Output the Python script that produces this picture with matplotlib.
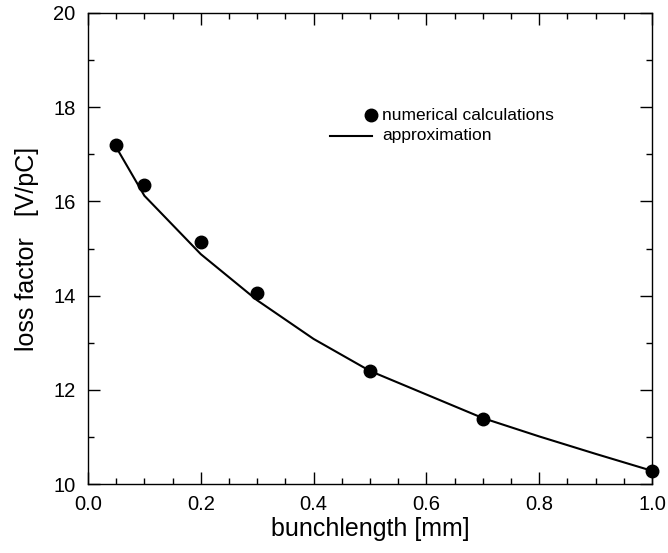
import numpy as np
import matplotlib.pyplot as plt
from matplotlib.ticker import MultipleLocator

plt.rcParams['font.family'] = ['Liberation Sans', 'DejaVu Sans']

# numerical results: bunch length [mm] vs loss factor [V/pC]
bunch_mm = [0.05, 0.1, 0.2, 0.3, 0.5, 0.7, 1.0]
loss_num = [17.2, 16.35, 15.13, 14.05, 12.40, 11.39, 10.28]

# approximation curve
approx_mm = [0.05, 0.1, 0.2, 0.3, 0.4, 0.5, 0.6, 0.7, 0.8, 0.9, 1.0]
approx_loss = [17.15, 16.12, 14.88, 13.9, 13.08, 12.40, 11.9, 11.40, 11.01, 10.64, 10.28]

fig = plt.figure(figsize=(6.68, 5.53), dpi=100)
ax = fig.add_axes([88/668, 69/553, 564/668, 471/553])

ax.plot(approx_mm, approx_loss, color='black', lw=1.5, zorder=2)
ax.plot(bunch_mm, loss_num, 'o', color='black', ms=9, zorder=3, clip_on=False)

ax.set_xlim(0, 1.0)
ax.set_ylim(10, 20)
ax.xaxis.set_major_locator(MultipleLocator(0.2))
ax.xaxis.set_minor_locator(MultipleLocator(0.05))
ax.yaxis.set_major_locator(MultipleLocator(2))
ax.yaxis.set_minor_locator(MultipleLocator(1))
ax.xaxis.set_major_formatter(plt.FormatStrFormatter('%.1f'))

ax.tick_params(which='both', direction='in', top=True, right=True,
               labelsize=14.5, width=1)
ax.tick_params(axis='x', which='major', length=8.5, pad=8)
ax.tick_params(axis='y', which='major', length=8.5, pad=9)
ax.tick_params(which='minor', length=4.5)
for s in ax.spines.values():
    s.set_linewidth(1)

ax.set_xlabel('bunchlength [mm]', fontsize=18, labelpad=2)
ax.set_ylabel('loss factor   [V/pC]', fontsize=18, labelpad=10)

# legend drawn by hand: dot just left of first entry, short line for second
ax.plot([0.501], [0.783], 'o', color='black', ms=9, transform=ax.transAxes)
ax.text(0.521, 0.783, 'numerical calculations', transform=ax.transAxes,
        fontsize=12.5, va='center', ha='left')
ax.plot([0.429, 0.503], [0.739, 0.739], color='black', lw=1.5,
        transform=ax.transAxes)
ax.text(0.521, 0.739, 'approximation', transform=ax.transAxes,
        fontsize=12.5, va='center', ha='left')

fig.savefig('out.png', dpi=100)
